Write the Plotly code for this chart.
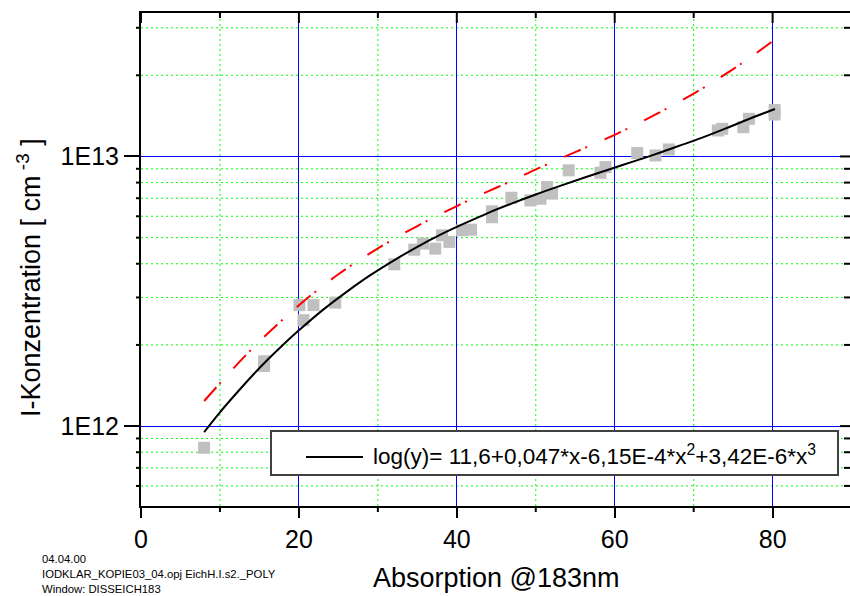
import math
import plotly.graph_objects as go

# ---------------- data ----------------
absorption = [7.99, 15.59, 15.59, 20.07, 20.58, 21.84, 24.6, 32.08, 34.61, 35.71,
              37.27, 38.12, 39.05, 40.66, 41.80, 44.46, 44.46, 46.91, 49.32, 50.59,
              51.44, 52.07, 54.17, 58.19, 58.83, 62.85, 65.17, 66.85, 73.06, 73.62,
              76.29, 77.0, 80.25, 80.25]
concentration = [8.31e11, 1.74e12, 1.67e12, 2.81e12, 2.47e12, 2.81e12, 2.87e12, 3.98e12,
                 4.51e12, 4.75e12, 4.55e12, 5.10e12, 4.82e12, 5.32e12, 5.35e12, 6.26e12,
                 5.95e12, 7.03e12, 6.87e12, 6.97e12, 7.70e12, 7.28e12, 8.88e12, 8.70e12,
                 9.13e12, 1.029e13, 1.0085e13, 1.0615e13, 1.248e13, 1.266e13, 1.284e13,
                 1.379e13, 1.486e13, 1.430e13]

# polynomial fit curve (black)
fit_x = [8, 10, 12, 14, 16, 18, 20, 23, 26, 29, 32, 35, 38, 41, 44, 47, 50, 53, 56,
         59, 62, 65, 68, 71, 74, 77, 80.3]
fit_y = [9.506e11, 1.125e12, 1.315e12, 1.528e12, 1.758e12, 2.004e12, 2.265e12, 2.692e12,
         3.141e12, 3.622e12, 4.111e12, 4.624e12, 5.140e12, 5.649e12, 6.180e12, 6.699e12,
         7.228e12, 7.762e12, 8.318e12, 8.892e12, 9.506e12, 1.016e13, 1.091e13, 1.172e13,
         1.268e13, 1.377e13, 1.500e13]

# red dash-dot curve
ref_x = [8, 10, 12.5, 15, 17.5, 20, 22.5, 25, 27.5, 30, 32.5, 35, 37.5, 40, 42.5, 45,
         47.5, 50, 52.5, 55, 57.5, 60, 62.5, 65, 67.5, 70, 72.5, 75, 77.5, 80.25]
ref_y = [1.2388e12, 1.4421e12, 1.7338e12, 2.0606e12, 2.4155e12, 2.8054e12, 3.2211e12,
         3.6559e12, 4.1020e12, 4.5604e12, 5.0350e12, 5.5208e12, 6.0256e12, 6.5464e12,
         7.0958e12, 7.6560e12, 8.2604e12, 8.9536e12, 9.6383e12, 1.0375e13, 1.1169e13,
         1.2023e13, 1.3062e13, 1.4223e13, 1.5560e13, 1.7100e13, 1.8923e13, 2.1086e13,
         2.3659e13, 2.7102e13]

x_major = [0, 20, 40, 60, 80]
x_minor = [10, 30, 50, 70]
y_major = [1e12, 1e13]
y_major_text = ["1E12", "1E13"]
y_minor = [6e11, 7e11, 8e11, 9e11, 2e12, 3e12, 4e12, 5e12, 6e12, 7e12, 8e12, 9e12, 2e13, 3e13]

legend_text = "log(y)= 11,6+0,047*x-6,15E-4*x<sup>2</sup>+3,42E-6*x<sup>3</sup>"
x_title = "Absorption @183nm"
y_title = "I-Konzentration [ cm<sup> -3</sup> ]"
footer = ["04.04.00", "IODKLAR_KOPIE03_04.opj EichH.I.s2._POLY", "Window: DISSEICH183"]

FONT = "Arial, Liberation Sans, sans-serif"
XR = [0, 89.8]
YR = [11.7037, 13.532]
BLUE = "#0000ff"
GREEN = "#00ff00"
PLOT_W, PLOT_H = 709.0, 493.0

def xp(v):
    return (v - XR[0]) / (XR[1] - XR[0])

def yp(v):
    return (math.log10(v) - YR[0]) / (YR[1] - YR[0])

fig = go.Figure()
fig.add_trace(go.Scatter(x=absorption, y=concentration, mode="markers",
                         marker=dict(symbol="square", size=12, color="#c0c0c0", line=dict(width=0)),
                         showlegend=False, hoverinfo="skip"))
fig.add_trace(go.Scatter(x=fit_x, y=fit_y, mode="lines",
                         line=dict(color="black", width=2, shape="spline", smoothing=1),
                         showlegend=False))
fig.add_trace(go.Scatter(x=ref_x, y=ref_y, mode="lines",
                         line=dict(color="red", width=2, dash="18px,5px,2px,19px", shape="spline", smoothing=1),
                         showlegend=False))

fig.update_layout(
    width=850, height=596,
    margin=dict(l=141, r=0, t=13, b=90),
    paper_bgcolor="white", plot_bgcolor="white",
    font=dict(family=FONT, color="black"),
    xaxis=dict(range=XR, showline=True, mirror=True, linewidth=2, linecolor="black", zeroline=False,
               tickmode="array", tickvals=x_major, ticks="outside", ticklen=10, tickwidth=2, tickcolor="black",
               tickfont=dict(size=25, family=FONT), showgrid=True, gridcolor=BLUE, gridwidth=1),
    yaxis=dict(type="log", range=YR, showline=True, linewidth=2, linecolor="black", zeroline=False,
               tickmode="array", tickvals=y_major, ticktext=y_major_text, ticks="outside", ticklen=15,
               tickwidth=2, tickcolor="black", tickfont=dict(size=25, family=FONT),
               showgrid=True, gridcolor=BLUE, gridwidth=1),
)

TICK = dict(color="black", width=2)
GRID_MINOR = dict(color=GREEN, width=1, dash="2px,3px")

# minor gridlines and minor ticks (bottom outward, top inward)
for xv in x_minor:
    fig.add_shape(type="line", xref="paper", yref="paper", x0=xp(xv), x1=xp(xv), y0=0, y1=1,
                  line=GRID_MINOR, layer="below")
    fig.add_shape(type="line", xref="paper", yref="paper", x0=xp(xv), x1=xp(xv), y0=0, y1=-6 / PLOT_H,
                  line=TICK, layer="above")
    fig.add_shape(type="line", xref="paper", yref="paper", x0=xp(xv), x1=xp(xv), y0=1, y1=1 - 5 / PLOT_H,
                  line=TICK, layer="above")
for xv in x_major:
    fig.add_shape(type="line", xref="paper", yref="paper", x0=xp(xv), x1=xp(xv), y0=1, y1=1 - 10 / PLOT_H,
                  line=TICK, layer="above")
# minor gridlines and ticks on y (left outward, right inward)
for yv in y_minor:
    fig.add_shape(type="line", xref="paper", yref="paper", x0=0, x1=1, y0=yp(yv), y1=yp(yv),
                  line=GRID_MINOR, layer="below")
    fig.add_shape(type="line", xref="paper", yref="paper", x0=0, x1=-5 / PLOT_W, y0=yp(yv), y1=yp(yv),
                  line=TICK, layer="above")
    fig.add_shape(type="line", xref="paper", yref="paper", x0=1, x1=1 - 6 / PLOT_W, y0=yp(yv), y1=yp(yv),
                  line=TICK, layer="above")
for yv in y_major:
    fig.add_shape(type="line", xref="paper", yref="paper", x0=1, x1=1 - 10 / PLOT_W, y0=yp(yv), y1=yp(yv),
                  line=TICK, layer="above")

def px_x(p):
    return (p - 141) / PLOT_W

def px_y(p):
    return (506 - p) / PLOT_H

# legend box (drawn as decoration)
fig.add_shape(type="rect", xref="paper", yref="paper", x0=px_x(271), x1=px_x(838), y0=px_y(475), y1=px_y(431),
              line=dict(color="#404040", width=2), fillcolor="white", layer="above")
fig.add_shape(type="line", xref="paper", yref="paper", x0=px_x(306), x1=px_x(363), y0=px_y(457), y1=px_y(457),
              line=dict(color="black", width=2), layer="above")
fig.add_annotation(xref="paper", yref="paper", x=px_x(371), y=px_y(455), xanchor="left", yanchor="middle",
                   text=legend_text, showarrow=False, font=dict(size=22.5, family=FONT, color="black"))

fig.add_annotation(xref="paper", yref="paper", x=px_x(496), y=px_y(578), xanchor="center", yanchor="middle",
                   text=x_title, showarrow=False, font=dict(size=27, family=FONT, color="black"))
fig.add_annotation(xref="paper", yref="paper", x=px_x(29), y=px_y(278), xanchor="center", yanchor="middle",
                   text=y_title, textangle=-90, showarrow=False, font=dict(size=27, family=FONT, color="black"))

for line, ypix in zip(footer, [559, 574, 589]):
    fig.add_annotation(xref="paper", yref="paper", x=px_x(40), y=px_y(ypix), xanchor="left", yanchor="middle",
                       text=line, showarrow=False, font=dict(size=11.3, family=FONT, color="black"))

fig.write_html("out.html")
